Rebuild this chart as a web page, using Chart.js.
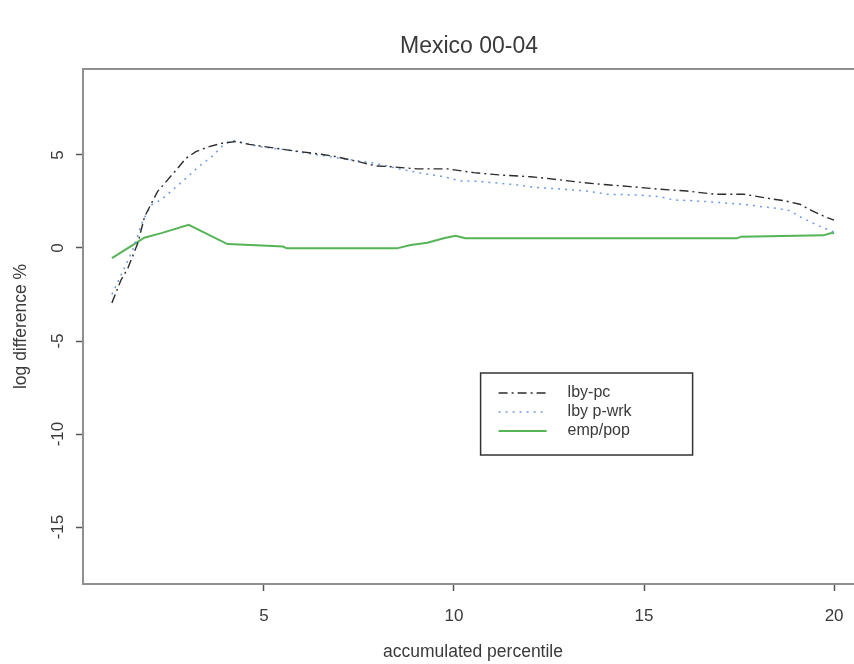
<!DOCTYPE html>
<html>
<head>
<meta charset="utf-8">
<title>Mexico 00-04</title>
<script src="https://cdn.jsdelivr.net/npm/chart.js@4.4.1/dist/chart.umd.min.js"></script>
<style>
  html, body { margin: 0; padding: 0; background: #fff; overflow: hidden; }
  #wrap { width: 880px; height: 664px; }
</style>
</head>
<body>
<div id="wrap"><canvas id="grafico" width="880" height="664"></canvas></div>
<script>
// Textos
const TITULO = 'Mexico 00-04';
const EIXO_X = 'accumulated percentile';
const EIXO_Y = 'log difference %';
const NOMES = ['lby-pc', 'lby p-wrk', 'emp/pop'];

// Marcas dos eixos
const TICKS_X = [5, 10, 15, 20];
const TICKS_Y = [-15, -10, -5, 0, 5];

// lby-pc
const lbyPcX = [1.0, 1.24, 1.42, 1.68, 1.86, 2.2, 2.69, 2.95, 3.21, 3.56, 3.96, 4.27, 4.61,
  5.01, 5.75, 6.5, 6.89, 7.59, 7.94, 8.34, 9.04, 9.83, 10.52, 11.23, 12.01, 12.41,
  13.41, 13.9, 14.64, 15.34, 16.13, 16.87, 17.62, 18.32, 18.71, 19.1, 19.41, 19.76, 20.0];
const lbyPcY = [-2.95, -1.72, -1.09, 0.25, 1.68, 3.03, 4.19, 4.82, 5.18, 5.45, 5.66, 5.72, 5.57,
  5.45, 5.23, 5.04, 4.91, 4.59, 4.41, 4.37, 4.25, 4.25, 4.05, 3.92, 3.83, 3.75,
  3.51, 3.42, 3.3, 3.17, 3.06, 2.89, 2.89, 2.65, 2.53, 2.35, 2.01, 1.68, 1.5];

// lby p-wrk
const lbyWrkX = [1.0, 1.3, 1.55, 1.8, 2.03, 2.3, 2.6, 2.95, 3.3, 3.65, 3.96, 4.22, 4.88,
  5.58, 6.3, 7.02, 7.94, 8.6, 9.2, 9.74, 10.18, 10.48, 11.05, 11.66, 12.1, 12.89,
  13.5, 14.03, 14.82, 15.43, 15.78, 16.3, 17.0, 17.8, 18.1, 18.5, 18.85, 19.1, 19.54, 20.0];
const lbyWrkY = [-2.5, -1.2, -0.1, 1.4, 2.3, 2.6, 3.12, 3.75, 4.4, 4.95, 5.6, 5.77, 5.45,
  5.27, 5.05, 4.82, 4.55, 4.23, 4.0, 3.83, 3.6, 3.6, 3.51, 3.39, 3.26, 3.16,
  3.06, 2.89, 2.85, 2.76, 2.58, 2.54, 2.44, 2.31, 2.22, 2.13, 2.0, 1.68, 1.24, 0.85];

// emp/pop
const empPopX = [1.0, 1.6, 1.85, 2.3, 3.02, 4.04, 4.8, 5.5, 5.6, 8.5, 8.86, 9.3, 9.73,
  10.04, 10.3, 17.45, 17.55, 19.72, 19.9, 20.0];
const empPopY = [-0.55, 0.22, 0.55, 0.8, 1.24, 0.21, 0.15, 0.08, -0.02, -0.02, 0.16, 0.28, 0.52,
  0.65, 0.52, 0.52, 0.61, 0.68, 0.79, 0.8];

const FONTE = "'Liberation Sans', Arial, sans-serif";
const COR_TEXTO = '#3a3a3a';

function pontos(xs, ys) {
  return xs.map((x, i) => ({ x: x, y: ys[i] }));
}

// Titulo e moldura do grafico
const molduraPlugin = {
  id: 'moldura',
  afterDraw(chart) {
    const { ctx, chartArea } = chart;
    ctx.save();
    ctx.strokeStyle = '#8f8f8f';
    ctx.lineWidth = 2;
    ctx.strokeRect(chartArea.left, chartArea.top,
      chartArea.right - chartArea.left, chartArea.bottom - chartArea.top);
    ctx.fillStyle = COR_TEXTO;
    ctx.font = '23px ' + FONTE;
    ctx.textAlign = 'center';
    ctx.textBaseline = 'middle';
    ctx.fillText(TITULO, (chartArea.left + chartArea.right) / 2 - 4, 47);
    ctx.restore();
  }
};

// Legenda em caixa, ancorada em coordenadas dos dados
const legendaPlugin = {
  id: 'legendaCaixa',
  afterDraw(chart) {
    const { ctx, scales } = chart;
    const x0 = scales.x.getPixelForValue(10.7);
    const y0 = scales.y.getPixelForValue(-6.72);
    const largura = 212, altura = 82;
    ctx.save();
    ctx.fillStyle = '#fff';
    ctx.fillRect(x0, y0, largura, altura);
    ctx.strokeStyle = '#333';
    ctx.lineWidth = 1.5;
    ctx.strokeRect(x0, y0, largura, altura);
    ctx.font = '16px ' + FONTE;
    ctx.textBaseline = 'middle';
    const linhas = [20, 39, 58];
    chart.data.datasets.forEach((ds, i) => {
      const y = y0 + linhas[i];
      ctx.beginPath();
      ctx.setLineDash(ds.borderDash || []);
      ctx.strokeStyle = ds.borderColor;
      ctx.lineWidth = ds.borderWidth;
      ctx.moveTo(x0 + 18, y);
      ctx.lineTo(x0 + 66, y);
      ctx.stroke();
      ctx.setLineDash([]);
      ctx.fillStyle = COR_TEXTO;
      ctx.fillText(ds.label, x0 + 87, y);
    });
    ctx.restore();
  }
};

const ctx = document.getElementById('grafico').getContext('2d');
const grafico = new Chart(ctx, {
  type: 'scatter',
  data: {
    datasets: [
      {
        label: NOMES[0],
        data: pontos(lbyPcX, lbyPcY),
        showLine: true,
        borderColor: '#2c2c2c',
        borderWidth: 1.4,
        borderDash: [9, 4, 2, 4],
        pointRadius: 0,
        tension: 0
      },
      {
        label: NOMES[1],
        data: pontos(lbyWrkX, lbyWrkY),
        showLine: true,
        borderColor: '#6d9ae6',
        borderWidth: 1.5,
        borderDash: [2, 5],
        pointRadius: 0,
        tension: 0
      },
      {
        label: NOMES[2],
        data: pontos(empPopX, empPopY),
        showLine: true,
        borderColor: '#55b455',
        borderWidth: 2,
        pointRadius: 0,
        tension: 0
      }
    ]
  },
  options: {
    responsive: false,
    animation: false,
    events: [],
    layout: { padding: { top: 69, left: 0, right: 17, bottom: 0 } },
    plugins: {
      legend: { display: false },
      title: { display: false },
      tooltip: { enabled: false }
    },
    scales: {
      x: {
        type: 'linear',
        min: 0.24,
        max: 20.76,
        afterBuildTicks: (scale) => { scale.ticks = TICKS_X.map(v => ({ value: v })); },
        afterFit: (scale) => { scale.height = 80; },
        grid: { drawOnChartArea: false, drawTicks: true, tickLength: 7, tickColor: '#555', tickWidth: 1.5 },
        border: { display: false },
        ticks: { color: COR_TEXTO, font: { family: FONTE, size: 17 }, padding: 15, maxRotation: 0 },
        title: {
          display: true,
          text: EIXO_X,
          color: COR_TEXTO,
          font: { family: FONTE, size: 17.5 },
          padding: { top: 0, bottom: 1.5 }
        }
      },
      y: {
        type: 'linear',
        min: -18.06,
        max: 9.62,
        afterBuildTicks: (scale) => { scale.ticks = TICKS_Y.map(v => ({ value: v })); },
        afterFit: (scale) => { scale.width = 83; },
        grid: { drawOnChartArea: false, drawTicks: true, tickLength: 7, tickColor: '#555', tickWidth: 1.5 },
        border: { display: false },
        ticks: {
          color: COR_TEXTO,
          font: { family: FONTE, size: 17 },
          padding: 5,
          minRotation: 90,
          maxRotation: 90,
          crossAlign: 'center'
        },
        title: {
          display: true,
          text: EIXO_Y,
          color: COR_TEXTO,
          font: { family: FONTE, size: 17.5 },
          padding: { top: 11, bottom: 0 }
        }
      }
    }
  },
  plugins: [molduraPlugin, legendaPlugin]
});
</script>
</body>
</html>
